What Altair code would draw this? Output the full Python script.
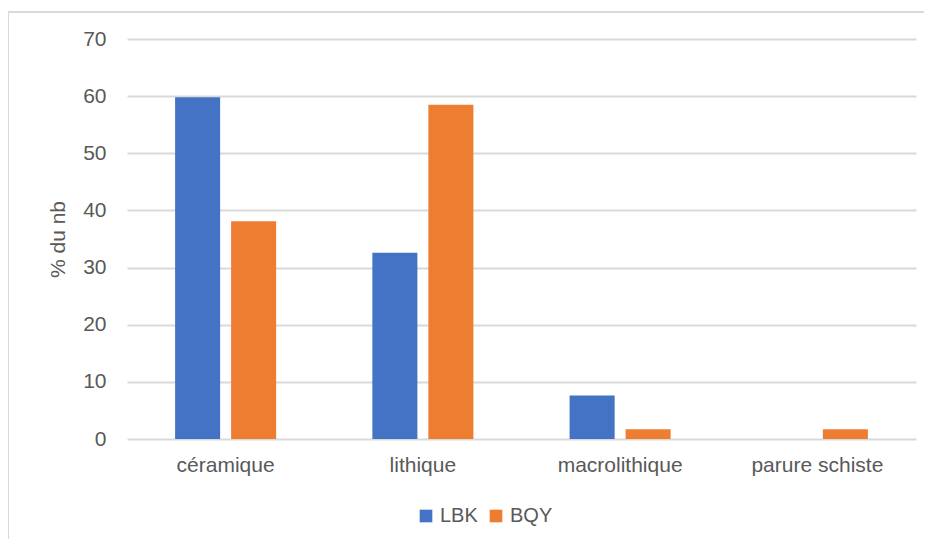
import altair as alt
import pandas as pd

categories = ["céramique", "lithique", "macrolithique", "parure schiste"]
series = ["LBK", "BQY"]
lbk = [59.8, 32.6, 7.6, 0.0]
bqy = [38.1, 58.5, 1.7, 1.7]
colors = ["#4472C4", "#ED7D31"]
y_ticks = [0, 10, 20, 30, 40, 50, 60, 70]

rows = []
for c, a, b in zip(categories, lbk, bqy):
    rows.append({"cat": c, "serie": "LBK", "val": a})
    rows.append({"cat": c, "serie": "BQY", "val": b})
df = pd.DataFrame(rows)

FONT = "Liberation Sans"
GRID = "#D9D9D9"
TXT = "#595959"

bars = alt.Chart(df).mark_bar().encode(
    x=alt.X("cat:N", sort=categories,
            scale=alt.Scale(paddingInner=0, paddingOuter=0),
            axis=alt.Axis(title=None, labelAngle=0, ticks=False, domain=False,
                          labelPadding=15, labelFontSize=21, labelColor=TXT,
                          labelFont=FONT, grid=False)),
    xOffset=alt.XOffset("serie:N", sort=series,
                        scale=alt.Scale(paddingInner=0.196, paddingOuter=0.859)),
    y=alt.Y("val:Q", scale=alt.Scale(domain=[0, 70], nice=False),
            axis=alt.Axis(title="% du nb", values=y_ticks, ticks=False, domain=False,
                          labelPadding=21, labelFontSize=21, labelColor=TXT,
                          labelFont=FONT, grid=True, gridColor=GRID, gridWidth=2,
                          titleFont=FONT, titleFontSize=21, titleColor=TXT,
                          titleFontWeight="normal", titlePadding=14)),
    color=alt.Color("serie:N", sort=series,
                    scale=alt.Scale(domain=series, range=colors),
                    legend=alt.Legend(title=None, orient="none", direction="horizontal",
                                      legendX=289, legendY=467,
                                      symbolType="square", symbolSize=160,
                                      symbolStrokeWidth=0,
                                      labelFontSize=20, labelFont=FONT, labelColor=TXT,
                                      labelOffset=4, columnPadding=8)),
)

frame_left = alt.Chart(pd.DataFrame({"a": [0]})).mark_rule(color=GRID, strokeWidth=2).encode(
    x=alt.value(-119), y=alt.value(-27), y2=alt.value(560))
frame_top = alt.Chart(pd.DataFrame({"a": [0]})).mark_rule(color=GRID, strokeWidth=2).encode(
    x=alt.value(-119), x2=alt.value(820), y=alt.value(-27))

chart = alt.layer(bars, frame_left, frame_top).properties(
    width=789, height=400,
    padding={"left": 119, "top": 31, "right": 8, "bottom": 100},
    autosize=alt.AutoSizeParams(type="none"),
).configure(background="white").configure_view(stroke=None, strokeWidth=0)

chart.save("out.html", embed_options={"renderer": "svg", "actions": False})
